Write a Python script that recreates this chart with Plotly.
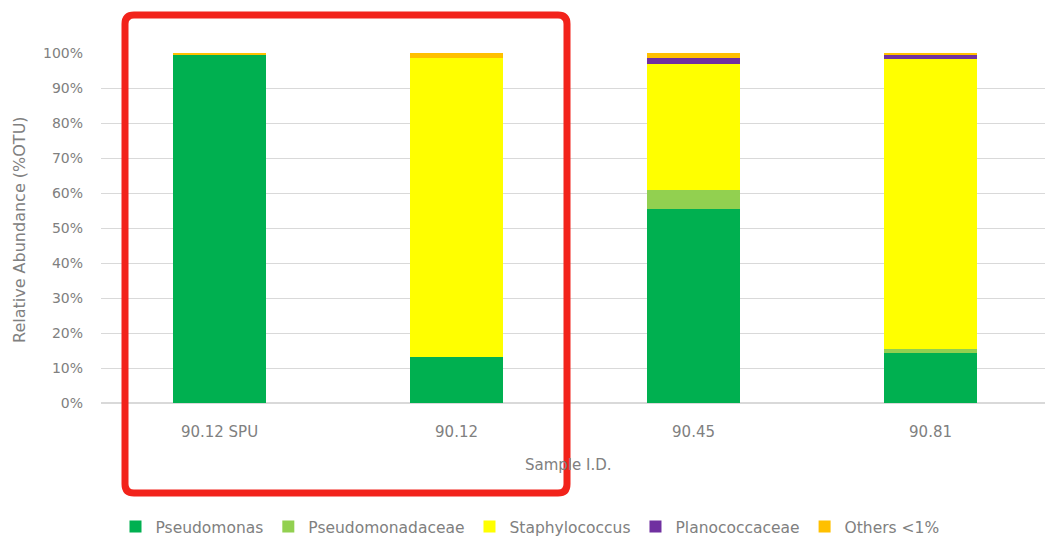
import plotly.graph_objects as go

# Sample IDs and relative abundance (% of OTUs) per taxon
samples = ["90.12 SPU", "90.12", "90.45", "90.81"]
pseudomonas = [99.4, 13.1, 55.3, 14.2]
pseudomonadaceae = [0.0, 0.0, 5.6, 1.1]
staphylococcus = [0.0, 85.5, 36.1, 82.9]
planococcaceae = [0.0, 0.0, 1.6, 1.2]
others = [0.6, 1.4, 1.4, 0.6]

series = [
    ("Pseudomonas", pseudomonas, "#00b050"),
    ("Pseudomonadaceae", pseudomonadaceae, "#92d050"),
    ("Staphylococcus", staphylococcus, "#ffff00"),
    ("Planococcaceae", planococcaceae, "#7030a0"),
    ("Others <1%", others, "#ffc000"),
]

FONT = "DejaVu Sans, Liberation Sans, Arial"
GREY = "#808080"

fig = go.Figure()
for name, vals, color in series:
    fig.add_trace(go.Bar(
        x=samples, y=vals, name=name,
        marker=dict(color=color, line=dict(width=0)),
        width=0.39,
    ))

# plot-area geometry in pixels
PW, PH = 1045, 538
L, T, W, H = 101, 53, 944, 350
def px(x):
    return (x - L) / W
def py(y):
    return (T + H - y) / H

# highlight box around the first two samples (rounded corners)
x0, x1, y0, y1, r = px(125), px(567), py(15), py(493), 9
rx, ry = r / W, r / H
path = (
    f"M {x0+rx},{y0} L {x1-rx},{y0} Q {x1},{y0} {x1},{y0-ry} "
    f"L {x1},{y1+ry} Q {x1},{y1} {x1-rx},{y1} "
    f"L {x0+rx},{y1} Q {x0},{y1} {x0},{y1+ry} "
    f"L {x0},{y0-ry} Q {x0},{y0} {x0+rx},{y0} Z"
)
fig.add_shape(type="path", path=path, xref="paper", yref="paper",
              line=dict(color="#f2231b", width=7), fillcolor="rgba(0,0,0,0)",
              layer="above")

fig.add_annotation(text="Sample I.D.", xref="paper", yref="paper",
                   x=px(568), y=py(465), xanchor="center", yanchor="middle",
                   showarrow=False,
                   font=dict(family=FONT, size=15, color=GREY))
fig.add_annotation(text="Relative Abundance (%OTU)", xref="paper", yref="paper",
                   x=px(19), y=py(230), xanchor="center", yanchor="middle",
                   showarrow=False, textangle=-90,
                   font=dict(family=FONT, size=16, color=GREY))

fig.update_layout(
    barmode="stack",
    width=PW, height=PH,
    margin=dict(l=L, r=PW - L - W, t=T, b=PH - T - H, autoexpand=False),
    paper_bgcolor="white", plot_bgcolor="white",
    font=dict(family=FONT, size=14, color=GREY),
    showlegend=True,
    legend=dict(orientation="h", xref="container", yref="container",
                x=530 / PW, xanchor="center",
                y=1 - 527 / PH, yanchor="middle",
                font=dict(family=FONT, size=15.5, color=GREY),
                itemwidth=30, traceorder="normal"),
    xaxis=dict(range=[-0.5, 3.483], showgrid=False, showline=False,
               ticks="", ticklabelstandoff=18,
               tickfont=dict(family=FONT, size=15, color=GREY)),
    yaxis=dict(range=[0, 100], tickvals=list(range(0, 101, 10)),
               ticktext=[f"{v}%" for v in range(0, 101, 10)],
               showgrid=True, gridcolor="#d9d9d9", gridwidth=1,
               zeroline=True, zerolinecolor="#d9d9d9", showline=False,
               ticks="", ticklabelstandoff=17,
               tickfont=dict(family=FONT, size=14, color=GREY)),
)

fig.write_html("out.html")
